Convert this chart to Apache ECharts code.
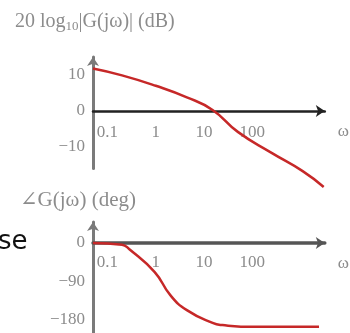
<!DOCTYPE html>
<html>
<head>
<meta charset="utf-8">
<script src="https://cdn.jsdelivr.net/npm/echarts@6/dist/echarts.min.js"></script>
<style>
  html, body { margin: 0; padding: 0; background: #fff; }
  #chart { width: 350px; height: 333px; }
</style>
</head>
<body>
<div id="chart"></div>
<script>
// magnitude curve
const magOmega = [0.05, 0.2, 1, 4.4, 15, 50, 240, 1100, 3000]
const magDb = [11.8, 9.9, 7.0, 3.8, 0.3, -5.8, -11.5, -16.7, -21.1]

// phase curve
const phaseOmega = [0.05, 0.2, 0.28, 0.95, 2, 4.4, 15, 24, 110, 2400]
const phaseDeg = [0, -4, -14, -68, -122, -157, -187, -192, -196, -196]

// tick labels
const freqTicks = [0.1, 1, 10, 100]
const magTicks = [-10, 0, 10]
const phaseTicks = [-180, -90, 0]

const RED = '#c62828'
const AXIS_GRAY = '#7a7a7a'
const LABEL_GRAY = '#8c8c8c'
const SERIF = '"Liberation Serif", "DejaVu Serif", serif'

const lg = (v) => Math.log10(v)
const fmtNum = (v) => (v < 0 ? '\u2212' + Math.abs(v) : String(v))

const chart = echarts.init(document.getElementById('chart'), null, { renderer: 'canvas' })

// labels sit under the zero line, not under the grid bottom
function xAxisFor(gridIndex, lineColor, lineWidth, labelMargin) {
  return {
    type: 'value',
    gridIndex,
    min: -1.3,
    max: 3.5,
    name: 'ω',
    nameGap: 13,
    nameTextStyle: { color: LABEL_GRAY, fontFamily: SERIF, fontSize: 17, verticalAlign: 'top', padding: [12, 0, 0, 0] },
    axisLine: {
      onZero: true,
      symbol: ['none', 'arrow'],
      symbolSize: [9, 9],
      lineStyle: { color: lineColor, width: lineWidth },
    },
    axisTick: { show: false },
    splitLine: { show: false },
    axisLabel: {
      customValues: freqTicks.map(lg),
      formatter: (v) => String(Math.round(Math.pow(10, v) * 10) / 10),
      color: LABEL_GRAY,
      fontFamily: SERIF,
      fontSize: 17,
      margin: labelMargin,
      hideOverlap: false,
    },
  }
}

function yAxisFor(gridIndex, min, max, ticks) {
  return {
    type: 'value',
    gridIndex,
    min,
    max,
    axisLine: {
      onZero: false,
      symbol: ['none', 'arrow'],
      symbolSize: [9, 9],
      lineStyle: { color: AXIS_GRAY, width: 3 },
    },
    axisTick: { show: false },
    splitLine: { show: false },
    axisLabel: {
      customValues: ticks,
      formatter: fmtNum,
      color: LABEL_GRAY,
      fontFamily: SERIF,
      fontSize: 17,
      margin: 8,
    },
  }
}

const option = {
  animation: false,
  grid: [
    { left: 93, width: 240, top: 57, height: 111.6 },
    { left: 93, width: 240, top: 222, height: 110.8 },
  ],
  xAxis: [xAxisFor(0, '#222', 2.5, -45), xAxisFor(1, '#555', 3.5, -79)],
  yAxis: [yAxisFor(0, -16, 15, magTicks), yAxisFor(1, -210, 49, phaseTicks)],
  series: [
    {
      type: 'line',
      xAxisIndex: 0,
      yAxisIndex: 0,
      data: magOmega.map((w, i) => [lg(w), magDb[i]]),
      smooth: 0.5,
      showSymbol: false,
      clip: false,
      lineStyle: { color: RED, width: 2.5 },
      z: 3,
    },
    {
      type: 'line',
      xAxisIndex: 1,
      yAxisIndex: 1,
      data: phaseOmega.map((w, i) => [lg(w), phaseDeg[i]]),
      smooth: 0.5,
      showSymbol: false,
      clip: false,
      lineStyle: { color: RED, width: 2.5 },
      z: 3,
    },
  ],
  graphic: [
    {
      type: 'text',
      left: 15,
      top: 12,
      style: {
        text: '20 log{s|10}|G(jω)| (dB)',
        rich: { s: { fontSize: 13, verticalAlign: 'bottom', padding: [10, 0, 0, 0], fill: LABEL_GRAY, fontFamily: SERIF } },
        fill: LABEL_GRAY,
        font: '20px ' + SERIF,
      },
    },
    {
      type: 'text',
      left: 20,
      top: 190,
      style: {
        text: '∠G(jω) (deg)',
        fill: LABEL_GRAY,
        font: '21px ' + SERIF,
      },
    },
    {
      type: 'text',
      left: -2,
      top: 229,
      style: {
        text: 'se',
        fill: '#111',
        font: '26px "DejaVu Sans", sans-serif',
      },
    },
  ],
}

chart.setOption(option)
</script>
</body>
</html>
